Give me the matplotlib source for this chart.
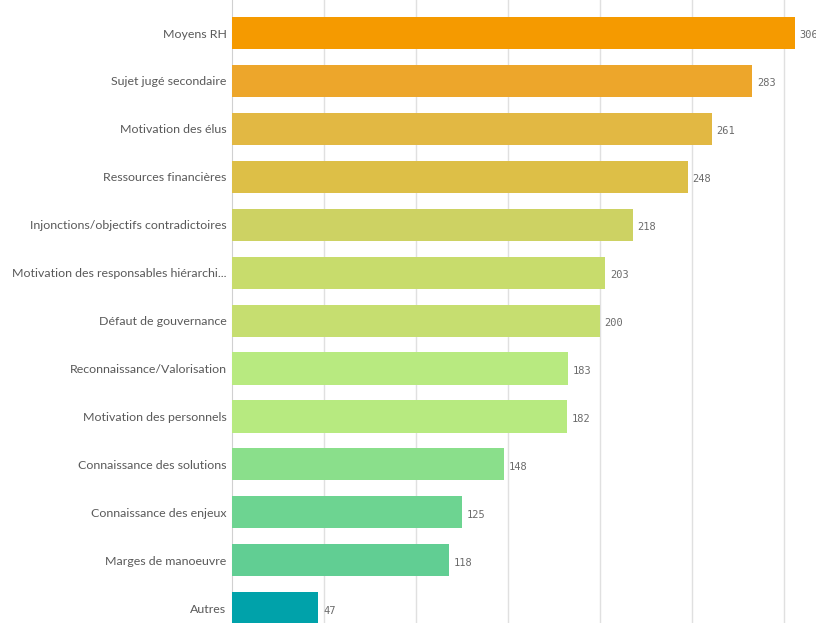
import matplotlib.pyplot as plt

categories = ["Moyens RH", "Sujet jugé secondaire", "Motivation des élus",
              "Ressources financières", "Injonctions/objectifs contradictoires",
              "Motivation des responsables hiérarchi...", "Défaut de gouvernance",
              "Reconnaissance/Valorisation", "Motivation des personnels",
              "Connaissance des solutions", "Connaissance des enjeux",
              "Marges de manoeuvre", "Autres"]
values = [306, 283, 261, 248, 218, 203, 200, 183, 182, 148, 125, 118, 47]
colors = ["#F59A00", "#EDA62B", "#E2B843", "#DDBF47", "#CDD263", "#C8DC6C",
          "#C6DE70", "#B8EA80", "#B7EA80", "#8ADF8B", "#6DD491", "#61CE93",
          "#00A2AA"]

fig = plt.figure(figsize=(8.16, 6.23), dpi=100)
ax = fig.add_axes([232 / 816, 0, 584 / 816, 1])

pos = list(range(len(categories)))
ax.barh(pos, values, height=0.67, color=colors, zorder=3)

# valeurs a droite des barres (la premiere est coupee au bord, comme l'original)
for p, v in zip(pos, values):
    ax.text(v + 2.5, p + 0.05, str(v), va="center", ha="left",
            fontsize=7.5, family="DejaVu Sans Mono", color="#6b6b6b")

ax.set_xlim(0, 317.6)
ax.set_ylim(12.31, -0.69)
ax.set_xticks([50, 100, 150, 200, 250, 300])
ax.tick_params(axis="x", length=0, labelbottom=False)
ax.grid(axis="x", color="#e0e0e0", linewidth=1, zorder=0)

ax.set_yticks(pos)
ax.set_yticklabels(categories, fontsize=8.9, family="Lato", color="#595959")
ax.tick_params(axis="y", length=0, pad=4)

for s in ["top", "right", "bottom"]:
    ax.spines[s].set_visible(False)
ax.spines["left"].set_color("#d0d0d0")

plt.savefig("out.png", dpi=100)
